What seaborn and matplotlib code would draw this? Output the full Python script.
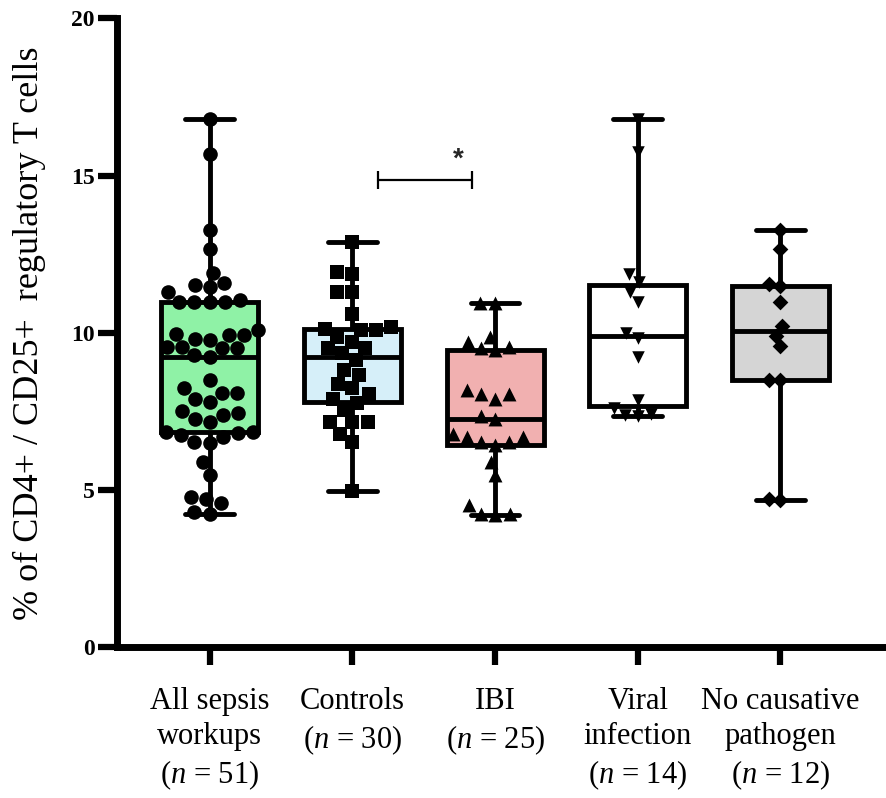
import pandas as pd
import numpy as np
import seaborn as sns
import matplotlib.pyplot as plt

####

groups = ["All sepsis", "Controls", "IBI", "Viral", "No causative"]
tick_labels = [
    "All sepsis\nworkups\n($n$ = 51)",
    "Controls\n($n$ = 30)",
    "IBI\n($n$ = 25)",
    "Viral\ninfection\n($n$ = 14)",
    "No causative\npathogen\n($n$ = 12)",
]

all_sepsis = [4.25, 4.30, 4.57, 4.70, 4.78, 5.47, 5.89, 6.48, 6.53, 6.69, 6.74, 6.80,
              6.85, 6.85, 7.16, 7.27, 7.38, 7.45, 7.50, 7.80, 7.90, 8.09, 8.09, 8.23,
              8.49, 9.23, 9.28, 9.50, 9.50, 9.55, 9.55, 9.76, 9.81, 9.92, 9.92, 9.97,
              10.08, 10.98, 10.98, 10.98, 10.98, 11.05, 11.30, 11.45, 11.51, 11.58,
              11.90, 12.68, 13.26, 15.70, 16.81]
controls = [4.96, 6.53, 6.79, 7.16, 7.16, 7.16, 7.54, 7.78, 7.88, 8.06, 8.23, 8.38,
            8.65, 8.81, 9.13, 9.35, 9.50, 9.50, 9.71, 9.87, 10.08, 10.08, 10.13, 10.19,
            10.61, 11.30, 11.30, 11.88, 11.93, 12.89]
ibi = [4.20, 4.25, 4.25, 4.51, 5.47, 5.89, 6.42, 6.53, 6.53, 6.69, 6.69, 6.79, 7.27,
       7.35, 7.90, 8.06, 8.06, 8.17, 9.46, 9.50, 9.55, 9.71, 9.87, 10.96, 10.96]
viral = [7.34, 7.38, 7.43, 7.62, 7.85, 9.23, 9.82, 9.98, 10.98, 11.30, 11.60, 11.88,
         15.75, 16.81]
no_cause = [4.67, 4.72, 8.49, 8.49, 9.57, 9.90, 10.20, 10.98, 11.48, 11.56, 12.68, 13.28]

values = [all_sepsis, controls, ibi, viral, no_cause]
box_colors = ["#8ff2a6", "#d6eff9", "#f1b0b0", "#ffffff", "#d5d5d5"]
markers = ["o", "s", "^", "v", "D"]
marker_sizes = [10.5, 10.5, 10, 9, 8]

# significance bar Controls vs IBI
sig_x = [1.18, 1.84]
sig_y = 14.85
star_x, star_y = 1.74, 15.1

df = pd.DataFrame({
    "group": np.repeat(groups, [len(v) for v in values]),
    "value": np.concatenate(values),
})

sns.set_style("ticks")
plt.rcParams["font.family"] = ["Liberation Serif", "DejaVu Serif"]
plt.rcParams["mathtext.fontset"] = "custom"
plt.rcParams["mathtext.rm"] = "Liberation Serif"
plt.rcParams["mathtext.it"] = "Liberation Serif:italic"

fig = plt.figure(figsize=(8.86, 7.98), dpi=100)
ax = fig.add_axes([0.132, 0.189, 0.868, 0.788])

sns.boxplot(data=df, x="group", y="value", hue="group", order=groups,
            palette=box_colors, saturation=1, width=0.68, whis=(0, 100),
            showfliers=False, linewidth=3.5, linecolor="black", legend=False, ax=ax)

for g, m, s in zip(groups, markers, marker_sizes):
    sns.swarmplot(data=df[df["group"] == g], x="group", y="value", order=groups,
                  marker=m, size=s, color="black", linewidth=0, zorder=3,
                  warn_thresh=1, ax=ax)

ax.plot(sig_x, [sig_y, sig_y], color="black", lw=1.6,
        marker="|", markersize=13, markeredgewidth=1.6)
ax.text(star_x, star_y, "*", ha="center", va="bottom", fontsize=20,
        fontweight="bold", family="Liberation Sans")

ax.set_xlim(-0.65, 4.74)
ax.set_ylim(0, 20)
ax.set_yticks([0, 5, 10, 15, 20])
ax.set_xticks(range(len(groups)))
ax.set_xticklabels(tick_labels, fontsize=22, linespacing=1.27)
for t in ax.get_yticklabels():
    t.set_fontweight("bold")
    t.set_fontsize(17)

ax.set_xlabel("")
ax.set_ylabel("% of CD4+ / CD25+  regulatory T cells", fontsize=26, labelpad=18,
              color="black")

for side in ["top", "right"]:
    ax.spines[side].set_visible(False)
for side in ["left", "bottom"]:
    ax.spines[side].set_linewidth(5)
    ax.spines[side].set_color("black")
ax.tick_params(axis="y", length=14, width=4.5, pad=2, color="black", labelcolor="black")
ax.tick_params(axis="x", length=13, width=4.5, pad=16, color="black", labelcolor="black")

fig.savefig("out.png", dpi=100)
